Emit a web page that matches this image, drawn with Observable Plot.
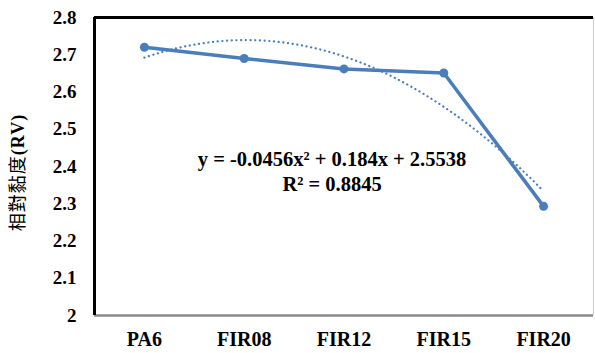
<!DOCTYPE html>
<html><head><meta charset="utf-8">
<script src="https://cdn.jsdelivr.net/npm/d3@7"></script>
<script src="https://cdn.jsdelivr.net/npm/@observablehq/plot@0.6"></script>
<style>
body{margin:0;background:#fff;}
#chart svg{display:block;}
</style>
</head><body><div id="chart"></div>
<script>
const categories = ["PA6", "FIR08", "FIR12", "FIR15", "FIR20"];
const rv = [2.72, 2.69, 2.662, 2.651, 2.293];
const yTicks = [2, 2.1, 2.2, 2.3, 2.4, 2.5, 2.6, 2.7, 2.8];
const yLabelMain = "相對黏度";
const yLabelUnit = "(RV)";
// polynomial trend line coefficients as shown on the chart: y = a x² + b x + c
const trendCoef = [-0.0456, 0.184, 2.5538];
const equationText = ["y = -0.0456x² + 0.184x + 2.5538", "R² = 0.8845"];

const data = categories.map((c, i) => ({idx: i + 1, cat: c, v: rv[i]}));
const trend = d3.range(1, 5.0001, 0.05).map(x => ({x, y: trendCoef[0]*x*x + trendCoef[1]*x + trendCoef[2]}));

const blue = "#4a7ebb";
const FONT = "'Liberation Serif', 'Noto Sans CJK TC', serif";

const chart = Plot.plot({
  width: 595, height: 353,
  marginLeft: 94, marginRight: 2, marginTop: 17, marginBottom: 38,
  style: {fontSize: "19px", fontWeight: "bold", color: "#000", background: "#fff"},
  x: {domain: [0.5, 5.5], ticks: d3.range(1, categories.length + 1), tickFormat: d => categories[d - 1], tickSize: 0, tickPadding: 16, label: null},
  y: {domain: [2, 2.8], ticks: yTicks, tickFormat: d3.format("~g"), tickSize: 0, tickPadding: 18, label: null},
  marks: [
    Plot.ruleY([2], {stroke: "#8a8a8a", strokeWidth: 2.5}),
    Plot.ruleX([5.5], {stroke: "#cfcfcf", strokeWidth: 1}),
    Plot.ruleY([2.8], {stroke: "#000", strokeWidth: 3}),
    Plot.ruleX([0.5], {stroke: "#000", strokeWidth: 3}),
    Plot.line(trend, {x: "x", y: "y", stroke: blue, strokeWidth: 2.2, strokeDasharray: "0.1 4.6", strokeLinecap: "round"}),
    Plot.line(data, {x: "idx", y: "v", stroke: blue, strokeWidth: 3.5}),
    Plot.dot(data, {x: "idx", y: "v", fill: blue, r: 4.5}),
    Plot.text([equationText.join("\n")], {frameAnchor: "middle", dx: -12, dy: 4, lineHeight: 1.2, fontSize: 20.5, fontWeight: "bold", fill: "#000"}),
    Plot.text([yLabelMain + yLabelUnit], {frameAnchor: "left", rotate: -90, dx: -76, dy: 6, fontSize: 18, fontWeight: "bold", fill: "#000", textAnchor: "middle"})
  ]
});
const svg = d3.select(chart);
svg.attr("font-family", FONT).style("font-family", FONT);
svg.selectAll("g, text, tspan").attr("font-family", FONT).style("font-family", FONT);
// x tick labels slightly larger than y tick labels, as in the reference
svg.selectAll("[aria-label='x-axis tick label'] text, [aria-label='x-axis tick label']").style("font-size", "20px");
svg.selectAll("text").filter(function(){ return this.textContent === yLabelMain + yLabelUnit; })
  .each(function(){
    const t = d3.select(this);
    t.text(null).style("letter-spacing", "1px");
    t.append("tspan").attr("font-weight", "normal").style("font-weight", "normal").text(yLabelMain);
    t.append("tspan").text(yLabelUnit);
  });
document.getElementById("chart").append(chart);
</script>
</body></html>
